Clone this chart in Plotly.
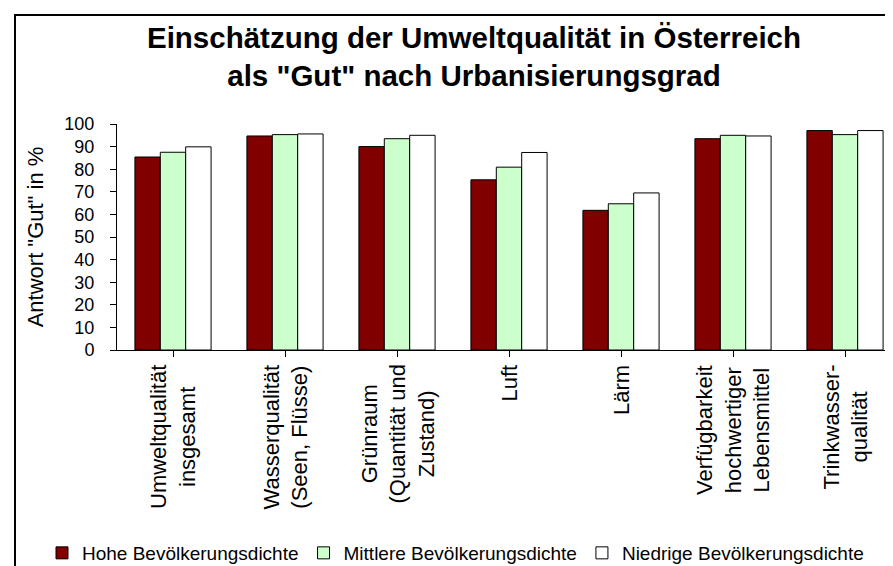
import plotly.graph_objects as go

categories = [
    "Umweltqualität<br>insgesamt",
    "Wasserqualität<br>(Seen, Flüsse)",
    "Grünraum<br>(Quantität und<br>Zustand)",
    "Luft",
    "Lärm",
    "Verfügbarkeit<br>hochwertiger<br>Lebensmittel",
    "Trinkwasser-<br>qualität",
]
series_names = [
    "Hohe Bevölkerungsdichte",
    "Mittlere Bevölkerungsdichte",
    "Niedrige Bevölkerungsdichte",
]
hohe = [85.4, 94.7, 90.0, 75.3, 61.8, 93.5, 97.1]
mittlere = [87.5, 95.3, 93.5, 80.9, 64.7, 95.0, 95.3]
niedrige = [89.9, 95.6, 95.0, 87.4, 69.5, 94.7, 97.1]
y_ticks = [0, 10, 20, 30, 40, 50, 60, 70, 80, 90, 100]

colors = ["#800000", "#CCFFCC", "#FFFFFF"]
FONT = "Arial, 'Liberation Sans', sans-serif"

W, H = 893, 566
L, R, T, B = 109, 0, 116, 224
pw, ph = W - L - R, H - T - B

fig = go.Figure()
for name, vals, col in zip(series_names, [hohe, mittlere, niedrige], colors):
    fig.add_trace(go.Bar(
        x=list(range(len(categories))), y=vals, name=name,
        marker=dict(color=col, line=dict(color="black", width=1)),
    ))

# category labels (rotated, centered lines)
for i, lab in enumerate(categories):
    fig.add_annotation(
        x=i, xref="x", y=(342 - 355) / ph, yref="paper",
        text=lab, textangle=-90, showarrow=False,
        xanchor="center", yanchor="top", align="center",
        font=dict(family=FONT, size=22, color="black"),
    )

# outer frame
fig.add_shape(type="rect", xref="paper", yref="paper",
              x0=(7 - L) / pw, x1=(W + 20 - L) / pw,
              y0=(342 - (H + 20)) / ph, y1=(342 - 7) / ph,
              line=dict(color="black", width=2), fillcolor="rgba(0,0,0,0)", layer="below")

fig.update_layout(
    width=W, height=H, autosize=False,
    margin=dict(l=L, r=R, t=T, b=B),
    paper_bgcolor="white", plot_bgcolor="white",
    font=dict(family=FONT, color="black"),
    barmode="group", bargap=0.32, bargroupgap=0,
    title=dict(
        text="Einschätzung der Umweltqualität in Österreich<br>als \"Gut\" nach Urbanisierungsgrad",
        x=466 / W, xanchor="center", xref="container",
        y=1 - 40 / H, yanchor="top", yref="container",
        font=dict(family=FONT, size=29.5, color="black", weight="bold"),
    ),
    showlegend=True,
    legend=dict(
        orientation="h", x=(34 - L) / pw, xanchor="left",
        y=(342 - 545) / ph, yanchor="middle",
        font=dict(family=FONT, size=19, color="black"),
        bgcolor="rgba(0,0,0,0)", traceorder="normal",
    ),
    xaxis=dict(
        range=[-0.5, len(categories) - 0.5],
        tickmode="array", tickvals=list(range(len(categories))),
        showticklabels=False, ticks="outside", tickson="boundaries",
        ticklen=6, tickcolor="black", showline=True, linecolor="black",
        linewidth=1, showgrid=False, zeroline=False, fixedrange=True,
    ),
    yaxis=dict(
        range=[0, 100], tickvals=y_ticks, ticktext=[str(v) for v in y_ticks],
        ticks="outside", ticklen=6, tickcolor="black", ticklabelstandoff=12,
        showline=True, linecolor="black", linewidth=1,
        showgrid=False, zeroline=False,
        tickfont=dict(family=FONT, size=18, color="black"),
        title=dict(text="Antwort \"Gut\" in %", standoff=14,
                   font=dict(family=FONT, size=22, color="black")),
    ),
)

fig.write_html("out.html")
